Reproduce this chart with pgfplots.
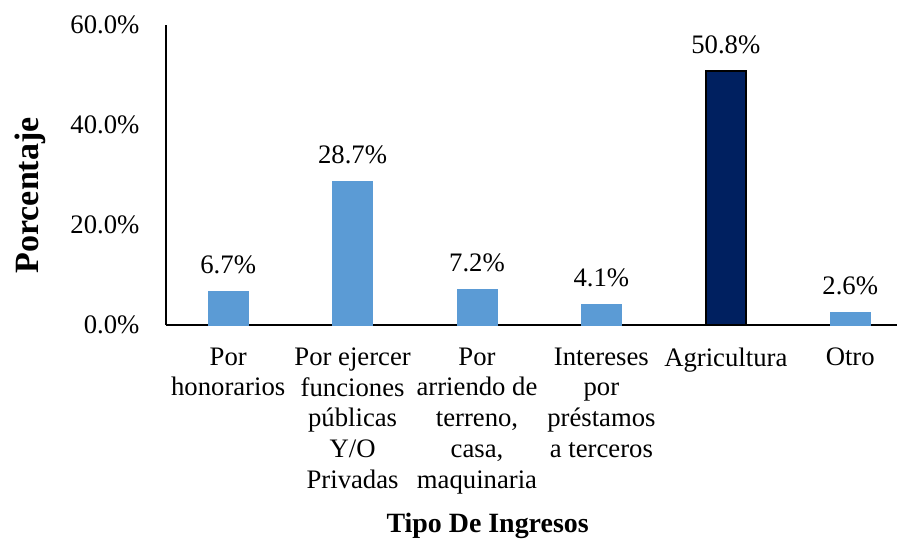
\documentclass[border=0pt]{standalone}
\usepackage{fontspec}
\setmainfont{Liberation Serif}
\usepackage{pgfplots}
\pgfplotsset{compat=1.18}
\definecolor{lightbar}{HTML}{5B9BD5}
\definecolor{darkbar}{HTML}{002060}
\begin{document}
\begin{tikzpicture}
\path[use as bounding box] (-166pt,-217pt) rectangle (731pt,325pt);
\begin{axis}[
  at={(0,0)}, anchor=south west,
  scale only axis,
  width=731pt, height=300pt,
  xmin=-0.5, xmax=5.376,
  ymin=0, ymax=60,
  axis lines=left,
  axis line style={line width=1.5pt, -},
  ytick={0,20,40,60},
  yticklabels={0.0\%,20.0\%,40.0\%,60.0\%},
  xtick={0,1,2,3,4,5},
  xticklabels={{Por\\honorarios}, {Por ejercer\\funciones\\públicas\\Y/O\\Privadas}, {Por\\arriendo de\\terreno,\\casa,\\maquinaria}, {Intereses\\por\\préstamos\\a terceros}, {Agricultura}, {Otro}},
  major tick length=0pt,
  tick style={draw=none},
  yticklabel style={font=\fontsize{26.7}{30.5}\selectfont, anchor=east, xshift=-23pt},
  xticklabel style={font=\fontsize{26.7}{30.8}\selectfont, align=center, anchor=north, yshift=-19pt},
  ylabel={\textbf{Porcentaje}},
  ylabel style={font=\fontsize{34}{40}\selectfont, at={(axis description cs:-0.186,0.432)}, anchor=center, rotate=0},
  xlabel={\textbf{Tipo De Ingresos}},
  xlabel style={font=\fontsize{27.9}{32}\selectfont, at={(axis description cs:0.44,-0.693)}, anchor=base},
  ybar, bar width=40pt, bar shift=0pt,
  nodes near coords,
  point meta=explicit symbolic,
  every node near coord/.append style={font=\fontsize{26.7}{30.5}\selectfont, anchor=base, yshift=18pt},
  clip=false,
]
\addplot[fill=lightbar, draw=lightbar, line width=0.5pt] coordinates {
  (0,6.7) [6.7\%]
  (1,28.7) [28.7\%]
  (2,7.2) [7.2\%]
  (3,4.1) [4.1\%]
  (5,2.6) [2.6\%]
};
\addplot[fill=darkbar, draw=black, line width=1.5pt] coordinates {
  (4,50.8) [50.8\%]
};
\end{axis}
\end{tikzpicture}
\end{document}
